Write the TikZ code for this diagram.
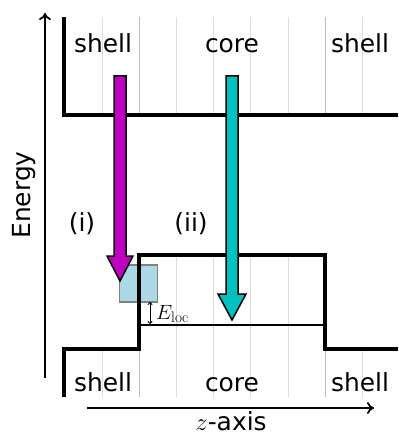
\documentclass[tikz,border=0pt]{standalone}
\usepackage{fontspec}
\setsansfont{DejaVu Sans}
\usetikzlibrary{arrows.meta}
\definecolor{magArrow}{HTML}{C000C0}
\definecolor{cyanArrow}{HTML}{00C0C0}
\definecolor{boxBlue}{HTML}{ADD8E6}
\definecolor{gridLight}{HTML}{DDDDDD}
\definecolor{gridDark}{HTML}{BBBBBB}
\tikzset{
  lbl/.style={font=\sffamily\fontsize{25}{28}\selectfont, inner sep=0pt, anchor=base},
  band/.style={line width=4.5bp, line cap=butt, line join=miter},
  gridl/.style={gridLight, line width=1bp},
  gridd/.style={gridDark, line width=1bp},
  axisarrow/.style={line width=1.8bp, -{To[length=7bp,width=12bp,line width=1.8bp]}},
  bigarrow/.style={draw=black, line width=1.5bp, line join=miter},
}
\begin{document}
\begin{tikzpicture}[x=1bp,y=-1bp]
\useasboundingbox (0,0) rectangle (398,433);
% grid lines top band
\foreach \x in {102,176,213,250,288,362} \draw[gridl] (\x,17) -- (\x,113);
\foreach \x in {139,325} \draw[gridd] (\x,17) -- (\x,113);
% grid lines bottom band
\foreach \x in {102,362} \draw[gridl] (\x,349) -- (\x,397);
\foreach \x in {176,213,250,288} \draw[gridl] (\x,255) -- (\x,397);
\foreach \x in {139,325} \draw[gridd] (\x,255) -- (\x,397);
% light blue box
\node[draw=gray, fill=boxBlue, line width=1.8bp, minimum width=38bp, minimum height=37bp, inner sep=0pt] (loc) at (138.5,283.5) {};
% top band
\draw[band] (64,17) -- (64,115) -- (398,115);
% bottom band
\draw[band] (64,397) -- (64,349) -- (139,349) -- (139,255) -- (325,255) -- (325,349) -- (398,349);
% thin level line
\coordinate (lvlL) at (139,325);
\coordinate (lvlR) at (325,325);
\draw[line width=1.8bp] (lvlL) -- (lvlR);
% labels
\node[lbl] (s1) at (103,53) {shell};
\node[lbl] (c1) at (232,53) {core};
\node[lbl] (s2) at (360,53) {shell};
\node[lbl] (s3) at (103,391) {shell};
\node[lbl] (c2) at (232,391) {core};
\node[lbl] (s4) at (360,391) {shell};
\node[lbl] (li) at (82,231) {(i)};
\node[lbl] (lii) at (191,231) {(ii)};
% big arrows
\draw[bigarrow, fill=magArrow] (114,76) -- (126,76) -- (126,256) -- (133,256) -- (120,281) -- (107,256) -- (114,256) -- cycle;
\draw[bigarrow, fill=cyanArrow] (226,76) -- (238,76) -- (238,294) -- (246,294) -- (232,320) -- (218,294) -- (226,294) -- cycle;
% E_loc
\coordinate (ea) at (150,302);
\coordinate (eb) at (150,324);
\draw[line width=0.8bp, {To[length=3bp,width=5bp]}-{To[length=3bp,width=5bp]}] (ea) -- (eb);
\node[anchor=base west, inner sep=0pt, font=\fontsize{22}{26}\selectfont] (el) at (156,319) {$E_{\mathrm{loc}}$};
% axes
\coordinate (eA) at (45,378);
\coordinate (eB) at (45,13);
\draw[axisarrow] (eA) -- (eB);
\node[lbl, rotate=90] (en) at (30,195) {Energy};
\coordinate (zA) at (87,408);
\coordinate (zB) at (374,408);
\draw[axisarrow] (zA) -- (zB);
\node[lbl] (zl) at (231,430) {$z$-axis};
\end{tikzpicture}
\end{document}
